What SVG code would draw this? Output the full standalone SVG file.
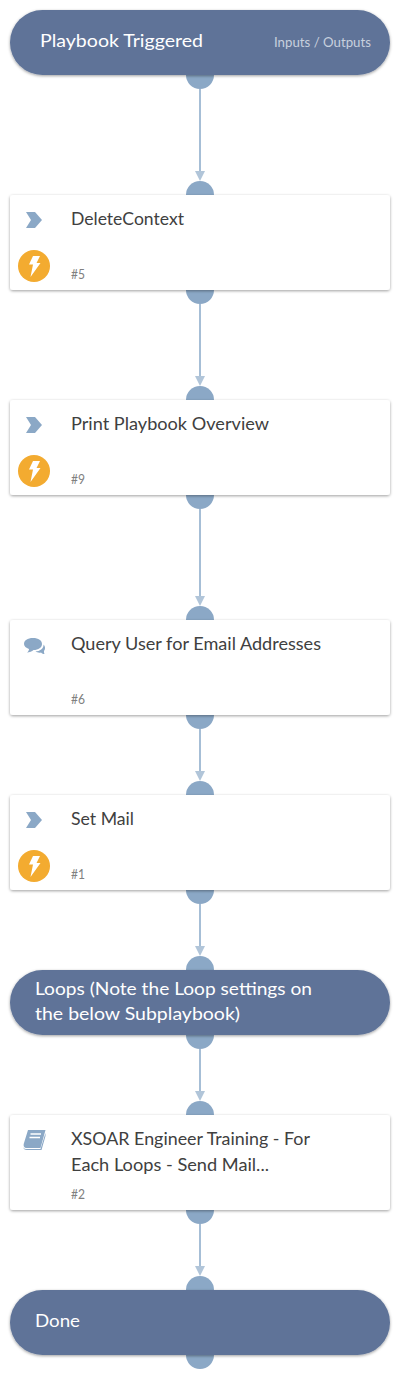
<svg xmlns="http://www.w3.org/2000/svg" width="400" height="1379" viewBox="0 0 400 1379">
<defs>
<filter id="sh" x="-5%" y="-15%" width="110%" height="135%"><feDropShadow dx="0" dy="1" stdDeviation="1.500" flood-color="#000" flood-opacity="0.380"/></filter>
<marker id="arr" markerUnits="userSpaceOnUse" markerWidth="10" markerHeight="10" refX="0" refY="5" orient="auto" viewBox="0 0 10 10"><path d="M0 0L10 5L0 10Z" fill="#b1c5d9"/></marker>
<g id="bolt"><circle r="16" fill="#f3ab30"/><path d="M-1-10H6L2.500-3H6.500L-3.500 11L-1-1.500H-5Z" fill="#fff"/></g>
<path id="chev" d="M-8-8H1L8 0L1 8H-8L-3 0Z" fill="#8ba8c6"/>
</defs>
<style>
.port{fill:#8ba8c6}
.pill{fill:#5e7398;filter:url(#sh)}
.card{fill:#fff;filter:url(#sh)}
text{font-family:"Lato","Noto Sans",sans-serif}
.pt{fill:#fff;font-size:18px}
.ct{fill:#404040;font-size:18px}
.num{fill:#808080;font-size:12.500px}
.io{fill:#c8d0de;font-size:13px}
.link{stroke:#a6bed6;stroke-width:2;fill:none;marker-end:url(#arr)}
</style>
<g id="connectors">
<path class="link" d="M200 89V171"/>
<path class="link" d="M200 304V376"/>
<path class="link" d="M200 509V596"/>
<path class="link" d="M200 729V771"/>
<path class="link" d="M200 904V946"/>
<path class="link" d="M200 1049V1091"/>
<path class="link" d="M200 1224V1266"/>
</g>
<g id="node-trigger">
<circle class="port" cx="200" cy="75" r="14"/>
<rect class="pill" x="10" y="10" width="380" height="65" rx="32.500"/>
<text class="pt" x="40" y="47" textLength="163" lengthAdjust="spacingAndGlyphs">Playbook Triggered</text>
<text class="io" x="274" y="47" textLength="97" lengthAdjust="spacingAndGlyphs">Inputs / Outputs</text>
</g>
<g id="node-5">
<circle class="port" cx="200" cy="195" r="14"/><circle class="port" cx="200" cy="290" r="14"/>
<rect class="card" x="10" y="195" width="380" height="95" rx="3"/>
<use href="#chev" x="34" y="220"/>
<use href="#bolt" x="34" y="266"/>
<text class="ct" x="71" y="225" textLength="113" lengthAdjust="spacingAndGlyphs">DeleteContext</text>
<text class="num" x="71" y="279" textLength="14" lengthAdjust="spacingAndGlyphs">#5</text>
</g>
<g id="node-9">
<circle class="port" cx="200" cy="400" r="14"/><circle class="port" cx="200" cy="495" r="14"/>
<rect class="card" x="10" y="400" width="380" height="95" rx="3"/>
<use href="#chev" x="34" y="425"/>
<use href="#bolt" x="34" y="471"/>
<text class="ct" x="71" y="430" textLength="198" lengthAdjust="spacingAndGlyphs">Print Playbook Overview</text>
<text class="num" x="71" y="484" textLength="14" lengthAdjust="spacingAndGlyphs">#9</text>
</g>
<g id="node-6">
<circle class="port" cx="200" cy="620" r="14"/><circle class="port" cx="200" cy="715" r="14"/>
<rect class="card" x="10" y="620" width="380" height="95" rx="3"/>
<path d="M33 638C38.500 638 42 640.500 42 644C42 647.500 38.500 650 33.500 650C32 651.500 29.500 652.500 27 652.500C28.500 651.500 29 650 29 649C26 648 24 646.200 24 644C24 640.500 27.500 638 33 638Z" fill="#8ba8c6"/>
<path d="M43.500 644.500C44 648.500 39.500 651.500 35.500 651.500C37 652.500 39 653 41 652.500C42 653.500 43.500 654 44.500 654C44 653 43.800 652 44 651C45.500 649.500 45.500 646 43.500 644.500Z" fill="#8ba8c6"/>
<text class="ct" x="71" y="650" textLength="250" lengthAdjust="spacingAndGlyphs">Query User for Email Addresses</text>
<text class="num" x="71" y="704" textLength="14" lengthAdjust="spacingAndGlyphs">#6</text>
</g>
<g id="node-1">
<circle class="port" cx="200" cy="795" r="14"/><circle class="port" cx="200" cy="890" r="14"/>
<rect class="card" x="10" y="795" width="380" height="95" rx="3"/>
<use href="#chev" x="34" y="820"/>
<use href="#bolt" x="34" y="866"/>
<text class="ct" x="71" y="825" textLength="63" lengthAdjust="spacingAndGlyphs">Set Mail</text>
<text class="num" x="71" y="879" textLength="14" lengthAdjust="spacingAndGlyphs">#1</text>
</g>
<g id="node-loops">
<circle class="port" cx="200" cy="1035" r="14"/><circle class="port" cx="200" cy="970" r="14"/>
<rect class="pill" x="10" y="970" width="380" height="65" rx="32.500"/>
<text class="pt" x="35" y="995" textLength="277" lengthAdjust="spacingAndGlyphs">Loops (Note the Loop settings on</text>
<text class="pt" x="35" y="1020" textLength="205" lengthAdjust="spacingAndGlyphs">the below Subplaybook)</text>
</g>
<g id="node-2">
<circle class="port" cx="200" cy="1115" r="14"/><circle class="port" cx="200" cy="1210" r="14"/>
<rect class="card" x="10" y="1115" width="380" height="95" rx="3"/>
<path d="M28 1130H45.500L40.500 1148H27C24 1148 23 1146 24 1143Z" fill="#8ba8c6"/>
<path d="M45.500 1133V1136L41.500 1150H27C24.500 1150 23.500 1149 23.200 1147C24 1149 25.500 1149 27 1149H40.500Z" fill="#8ba8c6"/>
<path d="M30.500 1134H41M29.500 1137.500H40" stroke="#fff" stroke-width="1.300"/>
<text class="ct" x="71" y="1145" textLength="239" lengthAdjust="spacingAndGlyphs">XSOAR Engineer Training - For</text>
<text class="ct" x="71" y="1171" textLength="198" lengthAdjust="spacingAndGlyphs">Each Loops - Send Mail...</text>
<text class="num" x="71" y="1199" textLength="14" lengthAdjust="spacingAndGlyphs">#2</text>
</g>
<g id="node-done">
<circle class="port" cx="200" cy="1290" r="14"/><circle class="port" cx="200" cy="1355" r="14"/>
<rect class="pill" x="10" y="1290" width="380" height="65" rx="32.500"/>
<text class="pt" x="35" y="1327" textLength="45" lengthAdjust="spacingAndGlyphs">Done</text>
</g>
</svg>
